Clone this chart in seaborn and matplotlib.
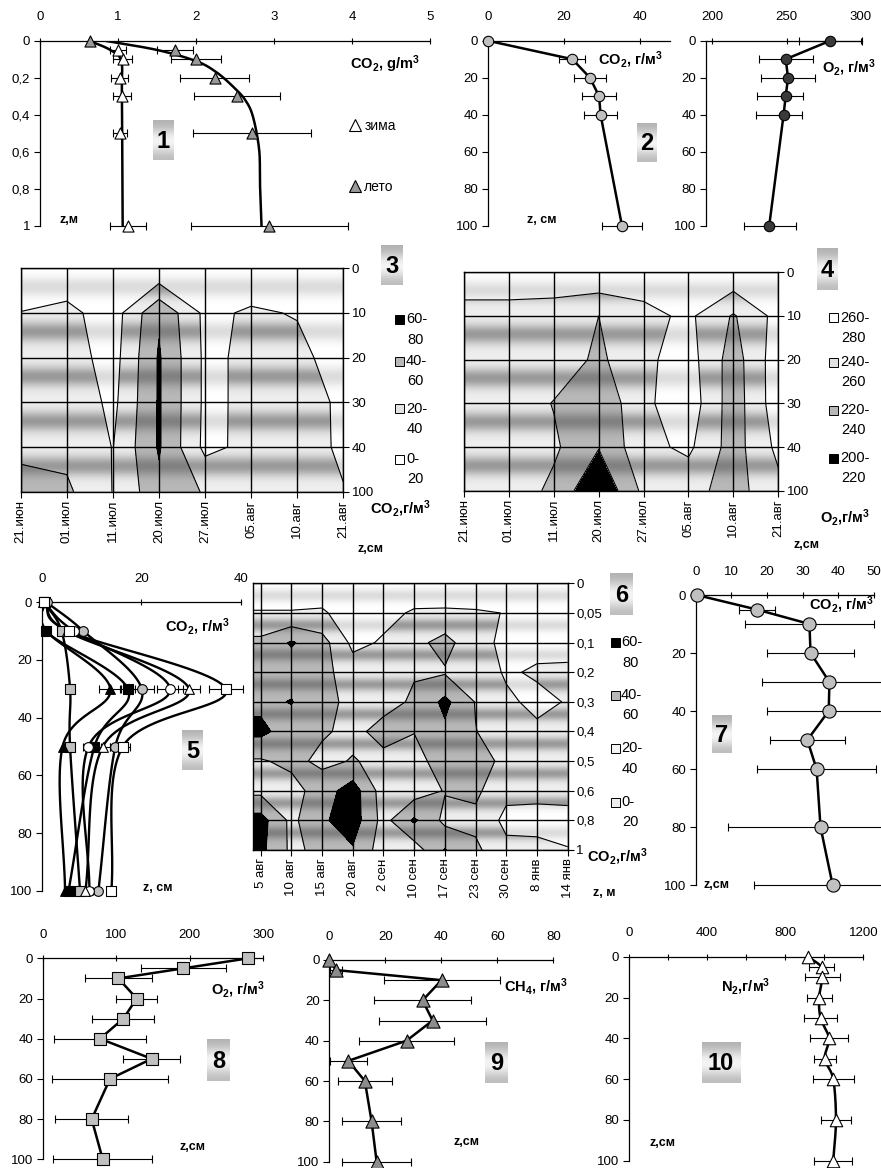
import numpy as np
import pandas as pd
import seaborn as sns
import matplotlib
matplotlib.use("Agg")
import matplotlib.pyplot as plt
from matplotlib.patches import Rectangle
from matplotlib.lines import Line2D

sns.set_theme(style="white")
plt.rcParams["font.family"] = ["Liberation Sans", "DejaVu Sans"]
plt.rcParams["mathtext.fontset"] = "custom"
plt.rcParams["mathtext.rm"] = "Liberation Sans"
plt.rcParams["mathtext.it"] = "Liberation Sans:italic"
plt.rcParams["mathtext.bf"] = "Liberation Sans:bold"
plt.rcParams.update({"axes.edgecolor": "black", "text.color": "black",
                     "xtick.color": "black", "ytick.color": "black",
                     "axes.labelcolor": "black", "axes.unicode_minus": False})

# ======================= DATA =======================
# Panel 1 : CO2, g/m3 vs depth (m)
p1_z_winter = [0.05, 0.1, 0.2, 0.3, 0.5, 1.0]
p1_winter = [1.00, 1.06, 1.02, 1.05, 1.03, 1.13]
p1_winter_err = [0.10, 0.12, 0.11, 0.12, 0.09, 0.23]
p1_z_summer = [0.0, 0.05, 0.1, 0.2, 0.3, 0.5, 1.0]
p1_summer = [0.64, 1.73, 2.0, 2.24, 2.53, 2.72, 2.94]
p1_summer_err = [0.0, 0.23, 0.32, 0.44, 0.55, 0.76, 1.01]
p1_trend_summer_x = [0.83, 1.5, 2.0, 2.26, 2.48, 2.63, 2.73, 2.81, 2.82, 2.84]
p1_trend_summer_z = [0.0, 0.05, 0.11, 0.17, 0.25, 0.32, 0.41, 0.59, 0.77, 1.0]
p1_trend_winter_x = [0.63, 0.9, 1.04, 1.05, 1.06]
p1_trend_winter_z = [0.0, 0.05, 0.11, 0.3, 1.0]
p1_yticks = [0, 0.2, 0.4, 0.6, 0.8, 1.0]
p1_ylabels = ["0", "0,2", "0,4", "0,6", "0,8", "1"]

# Panel 2 : CO2 and O2 (g/m3) vs depth (cm)
p2_z = [0, 10, 20, 30, 40, 100]
p2_co2 = [0.0, 22.2, 26.8, 29.2, 29.6, 35.2]
p2_co2_err = [0.0, 3.4, 4.1, 4.5, 4.4, 5.2]
p2_o2 = [279.5, 249.4, 251.0, 249.4, 248.0, 238.3]
p2_o2_err_lo = [20.8, 17.7, 18.4, 19.1, 18.5, 16.9]
p2_o2_err_hi = [21.2, 18.2, 18.2, 11.5, 12.3, 18.0]

# Panel 3 : CO2 contour (dates x depth)
p3_dates = ["21.июн", "01.июл", "11.июл", "20.июл", "27.июл", "05.авг", "10.авг", "21.авг"]
p3_depths = ["0", "10", "20", "30", "40", "100"]
p3_row0 = [5, 5, 5, 0.8, 3, 5.3, 5, 5]
p3_row10 = [20.5, 25.4, 10, 57.2, 15.4, 22.6, 18.8, 8]
p3_row20 = [30, 29.4, 12, 62, 16.2, 23.8, 25.7, 10]
p3_row30 = [30, 35.8, 15, 62, 16.2, 23.8, 25, 18]
p3_row40 = [35, 34.2, 19.5, 62, 15.2, 25, 25, 18.2]
p3_row100 = [48, 43.6, 19.5, 54.8, 38.2, 30, 28, 20.5]
p3_levels = [0, 20, 40, 60, 80]
p3_leg = [("60-", "80"), ("40-", "60"), ("20-", "40"), ("0-", "20")]

# Panel 4 : O2 contour
p4_row0 = [272, 272, 270, 278, 272, 270, 277, 272]
p4_row10 = [253, 253, 253, 240, 254, 264, 238, 267]
p4_row20 = [253, 253, 252, 236, 256, 268.5, 230.5, 272]
p4_row30 = [253, 253, 239, 224, 256, 272, 229.3, 272]
p4_row40 = [253, 253, 243.4, 221, 254.3, 264, 231, 265]
p4_row100 = [253, 253, 235.2, 201.4, 244.7, 246.6, 232.3, 254.3]
p4_levels = [200, 220, 240, 260, 280]
p4_leg = [("260-", "280"), ("240-", "260"), ("220-", "240"), ("200-", "220")]

# Panel 5 : CO2 profiles (several dates)
p5_z = [0, 10, 30, 50, 100]
p5_graysq = [0.5, 4.0, 5.7, 5.7, 7.7]
p5_blacktri = [0.3, 1.0, 13.8, 4.2, 4.7]
p5_blacksq = [0.6, 0.8, 17.3, 10.6, 5.4]
p5_graycirc = [1.0, 8.4, 20.1, 14.8, 11.4]
p5_whitecirc = [0.4, 6.5, 25.8, 9.4, 9.6]
p5_whitetri = [0.4, 5.0, 29.6, 12.3, 8.8]
p5_whitesq = [0.5, 5.4, 37.0, 16.3, 14.0]
p5_graysq_err = [0, 0, 0, 0, 0]
p5_blacktri_err = [0, 0, 2.2, 0, 0]
p5_blacksq_err = [0, 0, 1.5, 1.3, 0]
p5_graycirc_err = [0, 0, 2.4, 1.0, 0]
p5_whitecirc_err = [0, 0, 2.6, 1.0, 0.8]
p5_whitetri_err = [0, 0, 2.2, 1.4, 0]
p5_whitesq_err = [0, 0.9, 3.4, 1.5, 0.8]

# Panel 6 : CO2 contour (dates x depth m), columns = dates
p6_dates = ["5 авг", "10 авг", "15 авг", "20 авг", "2 сен", "10 сен", "17 сен",
            "23 сен", "30 сен", "8 янв", "14 янв"]
p6_depths = ["0", "0,05", "0,1", "0,2", "0,3", "0,4", "0,5", "0,6", "0,8", "1"]
p6_c0 = [10, 21, 45, 50, 55, 65, 38, 35, 68, 65]
p6_c1 = [10, 21, 62, 50, 61, 50, 45, 32, 35, 36]
p6_c2 = [10, 22, 48, 46, 46, 42, 36, 50, 57, 45]
p6_c3 = [10, 12, 15, 30, 35, 36, 41, 70, 70, 58]
p6_c4 = [10, 15, 22, 30, 35, 45, 36, 30, 33, 30]
p6_c5 = [8, 22, 34, 39, 42, 40.5, 34, 30, 63, 30]
p6_c6 = [5, 23, 47, 38, 65, 56, 48, 41, 35, 61]
p6_c7 = [5, 22, 26, 30, 39, 40.5, 45, 44, 35, 44]
p6_c8 = [5, 19.5, 16, 18, 23, 30, 37, 25, 15, 25]
p6_c9 = [5, 10, 15, 22, 16, 23, 20.5, 24, 15, 24]
p6_c10 = [5, 10, 14, 23, 21, 24, 22, 24, 16, 20.5]

# Panel 7 : CO2 profile
p7_z = [0, 5, 10, 20, 30, 40, 50, 60, 80, 100]
p7_co2 = [0.3, 17.1, 31.9, 32.2, 37.5, 37.3, 31.3, 33.9, 35.0, 38.4]
p7_err = [0, 5, 18, 12.1, 19, 17.2, 10.6, 16.7, 26, 22]

# Panel 8 : O2
p8_z = [0, 5, 10, 20, 30, 40, 50, 60, 80, 100]
p8_o2 = [279.6, 191.2, 102.9, 127.8, 109.7, 77.9, 148.2, 91.5, 66.6, 81.6]
p8_err = [0, 58, 46, 28, 42, 62, 39, 79, 50, 67]

# Panel 9 : CH4
p9_z = [0, 5, 10, 20, 30, 40, 50, 60, 80, 100]
p9_ch4 = [0, 2.4, 40.1, 33.3, 36.9, 27.6, 6.8, 12.7, 15.1, 16.9]
p9_err = [0, 2.3, 20.7, 17.3, 19, 17, 6.7, 9.7, 10.6, 12.3]

# Panel 10 : N2
p10_z = [0, 5, 10, 20, 30, 40, 50, 60, 80, 100]
p10_n2 = [918, 986, 991, 974, 981, 1024, 1003, 1046, 1060, 1046]
p10_err = [0, 62, 90, 64, 85, 98, 55, 104, 79, 96]

depth_ticks = [0, 20, 40, 60, 80, 100]

# ======================= FIGURE =======================
W, H = 881, 1168
TICK = 9.5
fig = plt.figure(figsize=(W / 100, H / 100), dpi=100)
fig.patch.set_facecolor("white")


def ax_px(x0, y0, x1, y1):
    return fig.add_axes([x0 / W, 1 - y1 / H, (x1 - x0) / W, (y1 - y0) / H])


def fxy(x, y):
    return x / W, 1 - y / H


def smooth(xv, zv, sx, sz, n=24):
    P = np.column_stack([np.asarray(xv, float) * sx, np.asarray(zv, float) * sz])
    P = np.vstack([2 * P[0] - P[1], P, 2 * P[-1] - P[-2]])
    t = np.linspace(0, 1, n, endpoint=False)[:, None]
    segs = []
    for i in range(1, len(P) - 2):
        p0, p1, p2, p3 = P[i - 1], P[i], P[i + 1], P[i + 2]
        c = 0.5 * (2 * p1 + (p2 - p0) * t + (2 * p0 - 5 * p1 + 4 * p2 - p3) * t ** 2
                   + (3 * p1 - p0 - 3 * p2 + p3) * t ** 3)
        segs.append(c)
    segs.append(P[-2:-1])
    S = np.vstack(segs)
    return S[:, 0] / sx, S[:, 1] / sz


def profile_axes(box, xlim, ylim, xticks, yticks, ylabels=None, xlabels=None, xminor=None):
    ax = ax_px(*box)
    ax.set_facecolor("none")
    for s in ["right", "bottom"]:
        ax.spines[s].set_visible(False)
    for s in ["top", "left"]:
        ax.spines[s].set_color("black")
        ax.spines[s].set_linewidth(0.9)
    ax.grid(False)
    ax.set_xlim(*xlim)
    ax.set_ylim(ylim[1], ylim[0])
    ax.set_xticks(xticks)
    if xlabels is not None:
        ax.set_xticklabels(xlabels)
    if xminor is not None:
        ax.set_xticks(xminor, minor=True)
    ax.set_yticks(yticks)
    if ylabels is not None:
        ax.set_yticklabels(ylabels)
    ax.tick_params(axis="x", which="both", top=True, bottom=False, labeltop=True,
                   labelbottom=False, direction="inout", length=5, width=0.8,
                   pad=10, labelsize=TICK)
    ax.tick_params(axis="y", left=True, right=False, direction="out", length=4,
                   width=0.8, pad=3, labelsize=TICK)
    return ax


def draw_profile(ax, x, z, err=None, marker="o", color="#c0c0c0", ms=7, line=True,
                 lw=1.8, smooth_scale=None):
    if err is not None:
        eb = ax.errorbar(x, z, xerr=err, fmt="none", ecolor="black", elinewidth=0.8,
                         capsize=2.6, capthick=0.8, zorder=2)
        for ch in eb.get_children():
            ch.set_clip_on(False)
    if line:
        if smooth_scale is not None:
            xs, zs = smooth(x, z, *smooth_scale)
        else:
            xs, zs = np.asarray(x, float), np.asarray(z, float)
        sns.lineplot(x=xs, y=zs, sort=False, estimator=None, ax=ax, color="black",
                     lw=lw, zorder=3)
    if marker is not None:
        sns.scatterplot(x=x, y=z, ax=ax, marker=marker, s=ms ** 2, color=color,
                        edgecolor="black", linewidth=0.8, zorder=4, clip_on=False,
                        legend=False)
    ax.set_xlabel("")
    ax.set_ylabel("")


def label(x, y, s, size=10, weight="bold", ha="center"):
    fig.text(*fxy(x, y), s, ha=ha, va="center", fontsize=size, fontweight=weight)


def num_box(x0, y0, x1, y1, s):
    bax = ax_px(x0, y0, x1, y1)
    grad = np.array([0.70, 0.78, 0.90, 0.97, 0.93, 0.83, 0.74])[:, None]
    bax.imshow(grad, cmap="gray", vmin=0, vmax=1, aspect="auto",
               interpolation="bicubic", extent=(0, 1, 0, 1))
    bax.set_axis_off()
    bax.text(0.5, 0.47, s, ha="center", va="center", fontsize=17, fontweight="bold",
             transform=bax.transAxes)


def contour_panel(box, xcols, grid, levels, colors, shades, xticks, xlabels, ylabels, xlim):
    ax = ax_px(*box)
    Z = np.asarray(grid, float)
    ny = Z.shape[0]
    Y = np.arange(ny)
    cs = ax.contourf(xcols, Y, Z, levels=levels, colors=colors, zorder=1)
    N = 100
    t = (np.arange(N) + 0.5) / N
    band = np.exp(-((t - 0.42) / 0.22) ** 2)
    prof = np.tile(band, ny - 1)
    for path, a in zip(cs.get_paths(), shades):
        if a <= 0 or len(path.vertices) == 0:
            continue
        rgba = np.zeros((len(prof), 1, 4))
        rgba[:, 0, 3] = a * prof
        im = ax.imshow(rgba, extent=(xlim[0], xlim[1], ny - 1, 0), aspect="auto",
                       interpolation="bilinear", zorder=2)
        im.set_clip_path(path, transform=ax.transData)
    ax.contour(xcols, Y, Z, levels=levels[1:-1], colors="black", linewidths=0.8, zorder=3)
    ax.set_xlim(*xlim)
    ax.set_ylim(ny - 1, 0)
    ax.set_xticks(xticks)
    ax.set_xticklabels(xlabels, rotation=90)
    ax.set_yticks(Y)
    ax.set_yticklabels(ylabels)
    ax.yaxis.tick_right()
    ax.tick_params(axis="x", bottom=True, top=False, direction="out", length=4,
                   width=0.8, pad=2, labelsize=TICK)
    ax.tick_params(axis="y", right=True, left=False, labelright=True, labelleft=False,
                   direction="out", length=4, width=0.8, pad=2, labelsize=TICK)
    ax.grid(True, color="black", linewidth=1.0)
    ax.set_axisbelow(False)
    for s in ax.spines.values():
        s.set_color("black")
        s.set_linewidth(1.0)
    return ax


def contour_legend(x_icon, x_text, rows, labels, colors):
    for (y1, y2), (l1, l2), c in zip(rows, labels, colors):
        fig.add_artist(Rectangle(fxy(x_icon, y1 + 4.5), 9 / W, 9 / H,
                                 transform=fig.transFigure, facecolor=c,
                                 edgecolor="black", lw=0.7))
        fig.text(*fxy(x_text, y1), l1, ha="left", va="center", fontsize=10.5)
        fig.text(*fxy(x_text + 1, y2), l2, ha="left", va="center", fontsize=10.5)


# ---------------- Panel 1 ----------------
ax1 = profile_axes((40, 40.7, 430, 225.7), (0, 5), (0, 1), [0, 1, 2, 3, 4, 5],
                   p1_yticks, p1_ylabels)
sc1 = (78.0, 185.0)
draw_profile(ax1, p1_trend_summer_x, p1_trend_summer_z, marker=None, line=True,
             smooth_scale=sc1)
draw_profile(ax1, p1_trend_winter_x, p1_trend_winter_z, marker=None, line=True,
             smooth_scale=sc1)
draw_profile(ax1, p1_winter, p1_z_winter, err=p1_winter_err, marker="^",
             color="white", ms=8, line=False)
draw_profile(ax1, p1_summer, p1_z_summer, err=p1_summer_err, marker="^",
             color="#999999", ms=8, line=False)
ax1.set_xlim(0, 5)
ax1.set_ylim(1, 0)
h_w = Line2D([], [], ls="none", marker="^", ms=8, mfc="white", mec="black", mew=0.8)
h_s = Line2D([], [], ls="none", marker="^", ms=8, mfc="#999999", mec="black", mew=0.8)
ax1.legend([h_w, h_s], ["зима", "лето"], loc="upper left",
           bbox_to_anchor=fxy(349, 119), bbox_transform=fig.transFigure,
           frameon=False, fontsize=10, labelspacing=3.4, handlelength=0.9,
           handletextpad=0.2, borderpad=0, borderaxespad=0)
label(385, 64, r"CO$_\mathbf{2}$, g/m$^\mathbf{3}$", size=10.5)
label(69, 220, "z,м", size=9)
num_box(153, 120, 174, 160, "1")

# ---------------- Panel 2 ----------------
ax2 = profile_axes((487.7, 40.7, 670, 225.7), (0, 47.8), (0, 100), [0, 20, 40],
                   depth_ticks)
draw_profile(ax2, p2_co2, p2_z, err=p2_co2_err, marker="o", color="#c0c0c0", ms=7.5)
ax2.set_xlim(0, 47.8)
ax2.set_ylim(100, 0)
ax2b = profile_axes((705.7, 40.7, 861.5, 225.7), (195.5, 300.5), (0, 100),
                    [200, 250, 300], depth_ticks)
draw_profile(ax2b, p2_o2, p2_z, err=[p2_o2_err_lo, p2_o2_err_hi], marker="o",
             color="#3a3a3a", ms=7.5)
ax2b.set_xlim(195.5, 300.5)
ax2b.set_ylim(100, 0)
label(630, 60, r"CO$_\mathbf{2}$, г/м$^\mathbf{3}$", size=10.5)
label(849, 68, r"O$_\mathbf{2}$, г/м$^\mathbf{3}$", size=10.5)
label(542, 220, "z, см", size=9)
num_box(637, 123, 657, 162, "2")

# ---------------- Panel 3 ----------------
grid3 = [p3_row0, p3_row10, p3_row20, p3_row30, p3_row40, p3_row100]
contour_panel((20.7, 268.3, 343.3, 491.7), np.arange(len(p3_dates)), grid3, p3_levels,
              ["#ffffff", "#eeeeee", "#b8b8b8", "#000000"], [0.14, 0.36, 0.3, 0.0],
              np.arange(len(p3_dates)), p3_dates, p3_depths, (0, len(p3_dates) - 1))
contour_legend(395, 406, [(319, 340), (361, 381), (409, 429), (459, 479)], p3_leg,
               ["#000000", "#b8b8b8", "#e2e2e2", "#ffffff"])
label(370, 509, r"CO$_\mathbf{2}$,г/м$^\mathbf{3}$", size=10.5, ha="left")
label(370, 549, "z,см", size=9)
num_box(381, 245, 403, 285, "3")

# ---------------- Panel 4 ----------------
grid4 = [p4_row0, p4_row10, p4_row20, p4_row30, p4_row40, p4_row100]
contour_panel((464, 272.3, 778.3, 490.7), np.arange(len(p3_dates)), grid4, p4_levels,
              ["#000000", "#b8b8b8", "#eeeeee", "#ffffff"], [0.0, 0.3, 0.36, 0.14],
              np.arange(len(p3_dates)), p3_dates, p3_depths, (0, len(p3_dates) - 1))
contour_legend(829, 840, [(318, 338), (362, 382), (410, 430), (458, 478)], p4_leg,
               ["#ffffff", "#e2e2e2", "#b8b8b8", "#000000"])
label(845, 518, r"O$_\mathbf{2}$,г/м$^\mathbf{3}$", size=10.5)
label(806, 545, "z,см", size=9)
num_box(817, 248, 838, 290, "4")

# ---------------- Panel 5 ----------------
ax5 = profile_axes((41.7, 602.3, 240.7, 890.7), (0, 40), (0, 100), [0, 20, 40],
                   depth_ticks)
sc5 = (199 / 40, 288 / 100)
p5_series = [
    (p5_graysq, p5_graysq_err, "s", "#c0c0c0"),
    (p5_blacktri, p5_blacktri_err, "^", "#000000"),
    (p5_blacksq, p5_blacksq_err, "s", "#000000"),
    (p5_graycirc, p5_graycirc_err, "o", "#c0c0c0"),
    (p5_whitecirc, p5_whitecirc_err, "o", "#ffffff"),
    (p5_whitetri, p5_whitetri_err, "^", "#ffffff"),
    (p5_whitesq, p5_whitesq_err, "s", "#ffffff"),
]
for vals, err, mk, col in p5_series:
    draw_profile(ax5, vals, p5_z, err=err, marker=mk, color=col, ms=7,
                 smooth_scale=sc5, lw=1.7)
ax5.set_xlim(0, 40)
ax5.set_ylim(100, 0)
label(197, 627, r"CO$_\mathbf{2}$, г/м$^\mathbf{3}$", size=10.5)
label(158, 888, "z, см", size=9)
num_box(182, 730, 203, 770, "5")

# ---------------- Panel 6 ----------------
grid6 = np.column_stack([p6_c0, p6_c1, p6_c2, p6_c3, p6_c4, p6_c5, p6_c6, p6_c7,
                         p6_c8, p6_c9, p6_c10])
grid6p = np.column_stack([grid6[:, 0], grid6])
xcols6 = np.concatenate([[-0.24], np.arange(len(p6_dates))])
contour_panel((253.3, 583.3, 567.7, 850), xcols6, grid6p, p3_levels,
              ["#ffffff", "#eeeeee", "#b8b8b8", "#000000"], [0.14, 0.36, 0.3, 0.0],
              np.arange(len(p6_dates)), p6_dates, p6_depths, (-0.24, len(p6_dates) - 1))
contour_legend(611, 621, [(642, 663), (695, 715), (748, 769), (802, 822)], p3_leg,
               ["#000000", "#b8b8b8", "#f4f4f4", "#eeeeee"])
label(587, 857, r"CO$_\mathbf{2}$,г/м$^\mathbf{3}$", size=10.5, ha="left")
label(604, 893, "z, м", size=9)
num_box(610, 573, 633, 615, "6")

# ---------------- Panel 7 ----------------
ax7 = profile_axes((695.7, 595, 874, 885), (0, 50), (0, 100), [0, 10, 20, 30, 40, 50],
                   depth_ticks)
draw_profile(ax7, p7_co2, p7_z, err=p7_err, marker="o", color="#c0c0c0", ms=9.5)
ax7.set_xlim(0, 50)
ax7.set_ylim(100, 0)
label(841, 605, r"CO$_\mathbf{2}$, г/м$^\mathbf{3}$", size=10.5)
label(717, 885, "z,см", size=9)
num_box(712, 715, 732, 753, "7")

# ---------------- Panel 8 ----------------
ax8 = profile_axes((42.7, 958.3, 263.3, 1159.3), (0, 300), (0, 100), [0, 100, 200, 300],
                   depth_ticks)
draw_profile(ax8, p8_o2, p8_z, err=p8_err, marker="s", color="#c0c0c0", ms=9)
ax8.set_xlim(0, 300)
ax8.set_ylim(100, 0)
label(238, 990, r"O$_\mathbf{2}$, г/м$^\mathbf{3}$", size=10.5)
label(192, 1147, "z,см", size=9)
num_box(207, 1039, 230, 1081, "8")

# ---------------- Panel 9 ----------------
ax9 = profile_axes((329.3, 960, 553.3, 1161.7), (0, 80), (0, 100), [0, 20, 40, 60, 80],
                   depth_ticks)
draw_profile(ax9, p9_ch4, p9_z, err=p9_err, marker="^", color="#8c8c8c", ms=9.5)
ax9.set_xlim(0, 80)
ax9.set_ylim(100, 0)
label(536, 987, r"CH$_\mathbf{4}$, г/м$^\mathbf{3}$", size=10.5)
label(466, 1142, "z,см", size=9)
num_box(485, 1042, 508, 1083, "9")

# ---------------- Panel 10 ----------------
ax10 = profile_axes((629, 956.7, 863.3, 1160.7), (0, 1200), (0, 100),
                    [0, 400, 800, 1200], depth_ticks, xminor=[200, 600, 1000])
draw_profile(ax10, p10_n2, p10_z, err=p10_err, marker="^", color="white", ms=9,
             smooth_scale=(234.3 / 1200, 204 / 100))
ax10.set_xlim(0, 1200)
ax10.set_ylim(100, 0)
label(746, 987, r"N$_\mathbf{2}$,г/м$^\mathbf{3}$", size=10.5)
label(663, 1143, "z,см", size=9)
num_box(702, 1042, 740, 1083, "10")

fig.savefig("out.png", dpi=100)
